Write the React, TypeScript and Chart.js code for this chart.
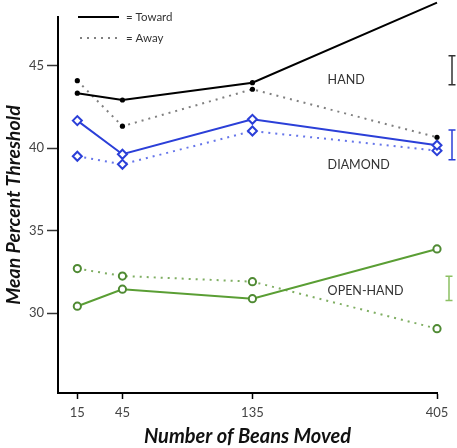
import React, { useEffect, useRef } from "react";
import { Chart, registerables, LinearScale } from "chart.js";

// ---- data ----
const beans = [15, 45, 135, 405];
const handToward = [43.33, 42.92, 43.97, 48.82];
const handAway = [44.09, 41.33, 43.57, 40.66];
const diamondToward = [41.67, 39.63, 41.75, 40.18];
const diamondAway = [39.51, 39.02, 41.04, 39.85];
const openToward = [30.42, 31.45, 30.88, 33.89];
const openAway = [32.7, 32.25, 31.91, 29.06];
const yTicks = [30, 35, 40, 45];
const groupLabels = ["HAND", "DIAMOND", "OPEN-HAND"];
const groupLabelY = [44.13, 38.98, 31.35];
const groupLabelX = [245, 245, 245];
const errCenter = [44.72, 40.2, 31.5];
const errHalf = [0.88, 0.9, 0.73];
const legendLabels = ["= Toward", "= Away"];

const BLUE = "#2b3fd8";
const BLUE_LIGHT = "#6676ea";
const GREEN = "#5a9e34";
const GREEN_LIGHT = "#7fae62";
const FONT = "Lato, 'Open Sans', 'DejaVu Sans', sans-serif";

class PiecewiseScale extends LinearScale {
  static id = "piecewise";
  static defaults = LinearScale.defaults;
  anch(): number[][] {
    return ((this.options as any).anchors as number[][]) || [[this.min, 0], [this.max, 1]];
  }
  toDecimal(v: number): number {
    const a = this.anch();
    for (let i = 0; i < a.length - 1; i++) {
      const [v0, f0] = a[i];
      const [v1, f1] = a[i + 1];
      if (v <= v1 || i === a.length - 2) return f0 + ((v - v0) / (v1 - v0)) * (f1 - f0);
    }
    return 0;
  }
  getPixelForValue(value: number): number {
    return this.getPixelForDecimal(this.toDecimal(value));
  }
  getValueForPixel(pixel: number): number {
    const d = this.getDecimalForPixel(pixel);
    const a = this.anch();
    for (let i = 0; i < a.length - 1; i++) {
      const [v0, f0] = a[i];
      const [v1, f1] = a[i + 1];
      if (d <= f1 || i === a.length - 2) return v0 + ((d - f0) / (f1 - f0)) * (v1 - v0);
    }
    return 0;
  }
}

Chart.register(...registerables, PiecewiseScale as any);

const pts = (ys: number[]) => beans.map((x, i) => ({ x, y: ys[i] }));

const annotations = {
  id: "annotations",
  afterDatasetsDraw(chart: any) {
    const ctx = chart.ctx as CanvasRenderingContext2D;
    const xs = chart.scales.x;
    const ys = chart.scales.y;
    const area = chart.chartArea;
    ctx.save();
    // legend
    ctx.font = `11.5px ${FONT}`;
    ctx.fillStyle = "#333";
    ctx.textBaseline = "middle";
    ctx.textAlign = "left";
    ctx.strokeStyle = "#000";
    ctx.lineWidth = 2;
    ctx.beginPath();
    ctx.moveTo(78, 17);
    ctx.lineTo(119, 17);
    ctx.stroke();
    ctx.fillText(legendLabels[0], 126, 17);
    ctx.strokeStyle = "#808080";
    ctx.setLineDash([2, 5]);
    ctx.beginPath();
    ctx.moveTo(80, 38);
    ctx.lineTo(119, 38);
    ctx.stroke();
    ctx.setLineDash([]);
    ctx.fillText(legendLabels[1], 126, 38);
    // group labels
    ctx.font = `12.5px ${FONT}`;
    ctx.fillStyle = "#333";
    groupLabels.forEach((t, i) => {
      ctx.fillText(t, xs.getPixelForValue(groupLabelX[i]), ys.getPixelForValue(groupLabelY[i]));
    });
    // error bars
    const errColors = ["#333", BLUE, "#8cc063"];
    const errX = [area.right + 15, area.right + 15, area.right + 12];
    errCenter.forEach((c, i) => {
      const top = ys.getPixelForValue(c + errHalf[i]);
      const bot = ys.getPixelForValue(c - errHalf[i]);
      const x = errX[i];
      ctx.strokeStyle = errColors[i];
      ctx.lineWidth = 1.5;
      ctx.beginPath();
      ctx.moveTo(x, top);
      ctx.lineTo(x, bot);
      ctx.moveTo(x - 3.5, top);
      ctx.lineTo(x + 3.5, top);
      ctx.moveTo(x - 3.5, bot);
      ctx.lineTo(x + 3.5, bot);
      ctx.stroke();
    });
    ctx.restore();
  },
};

export default function App() {
  const ref = useRef<HTMLCanvasElement | null>(null);
  useEffect(() => {
    if (!ref.current) return;
    const dotted = [2, 5];
    const chart = new Chart(ref.current, {
      type: "line",
      data: {
        datasets: [
          {
            label: "HAND Toward",
            data: pts(handToward),
            borderColor: "#000",
            borderWidth: 2,
            pointRadius: 2.6,
            pointBackgroundColor: "#000",
            pointBorderColor: "#000",
            pointBorderWidth: 0,
            clip: false,
          },
          {
            label: "HAND Away",
            data: pts(handAway),
            borderColor: "#808080",
            borderWidth: 2,
            borderDash: dotted,
            pointRadius: 2.6,
            pointBackgroundColor: "#000",
            pointBorderColor: "#000",
            pointBorderWidth: 0,
            clip: false,
          },
          {
            label: "DIAMOND Toward",
            data: pts(diamondToward),
            borderColor: BLUE,
            borderWidth: 2,
            pointStyle: "rectRot",
            pointRadius: 4.5,
            pointBackgroundColor: "#fff",
            pointBorderColor: BLUE,
            pointBorderWidth: 2,
            clip: false,
          },
          {
            label: "DIAMOND Away",
            data: pts(diamondAway),
            borderColor: BLUE_LIGHT,
            borderWidth: 2,
            borderDash: dotted,
            pointStyle: "rectRot",
            pointRadius: 4.5,
            pointBackgroundColor: "#fff",
            pointBorderColor: BLUE,
            pointBorderWidth: 2,
            clip: false,
          },
          {
            label: "OPEN-HAND Toward",
            data: pts(openToward),
            borderColor: GREEN,
            borderWidth: 2,
            pointStyle: "circle",
            pointRadius: 3.6,
            pointBackgroundColor: "#fff",
            pointBorderColor: "#4f8a33",
            pointBorderWidth: 2,
            clip: false,
          },
          {
            label: "OPEN-HAND Away",
            data: pts(openAway),
            borderColor: GREEN_LIGHT,
            borderWidth: 2,
            borderDash: dotted,
            pointStyle: "circle",
            pointRadius: 3.6,
            pointBackgroundColor: "#fff",
            pointBorderColor: "#4f8a33",
            pointBorderWidth: 2,
            clip: false,
          },
        ],
      },
      options: {
        responsive: false,
        animation: false,
        devicePixelRatio: 1,
        layout: { padding: { top: 17, right: 20, left: 0, bottom: 0 } },
        plugins: { legend: { display: false }, tooltip: { enabled: false } },
        scales: {
          x: {
            type: "piecewise" as any,
            min: 0,
            max: 405,
            anchors: [
              [0, 0],
              [15, 0.051],
              [45, 0.17],
              [135, 0.513],
              [405, 1],
            ],
            afterBuildTicks: (s: any) => {
              s.ticks = beans.map((v) => ({ value: v }));
            },
            afterFit: (s: any) => {
              s.height = 55;
            },
            grid: { drawOnChartArea: false, drawTicks: true, tickLength: 6, tickColor: "#000", tickWidth: 1.5 },
            border: { display: true, color: "#000", width: 2 },
            ticks: {
              autoSkip: false,
              maxRotation: 0,
              padding: 6,
              color: "#444",
              font: { family: FONT, size: 13 },
              callback: (v: any) => String(v),
            },
            title: {
              display: true,
              text: "Number of Beans Moved",
              color: "#111",
              font: { family: FONT, size: 20, weight: "bold", style: "italic" },
              padding: { top: 0, bottom: -1 },
            },
          } as any,
          y: {
            type: "linear",
            min: 25.16,
            max: 47.95,
            afterBuildTicks: (s: any) => {
              s.ticks = yTicks.map((v) => ({ value: v }));
            },
            afterFit: (s: any) => {
              s.width = 58;
            },
            grid: { drawOnChartArea: false, drawTicks: true, tickLength: 11, tickColor: "#333", tickWidth: 1.5 },
            border: { display: true, color: "#000", width: 2 },
            ticks: {
              padding: 3,
              color: "#444",
              font: { family: FONT, size: 13 },
              callback: (v: any) => String(v),
            },
            title: {
              display: true,
              text: "Mean Percent Threshold",
              color: "#111",
              font: { family: FONT, size: 19.5, weight: "bold", style: "italic" },
              padding: { top: 2, bottom: 0 },
            },
          },
        },
      },
      plugins: [annotations],
    } as any);
    return () => chart.destroy();
  }, []);
  return (
    <div style={{ position: "absolute", left: 0, top: 0, width: 457, height: 448, background: "#fff" }}>
      <canvas ref={ref} width={457} height={448} />
    </div>
  );
}
